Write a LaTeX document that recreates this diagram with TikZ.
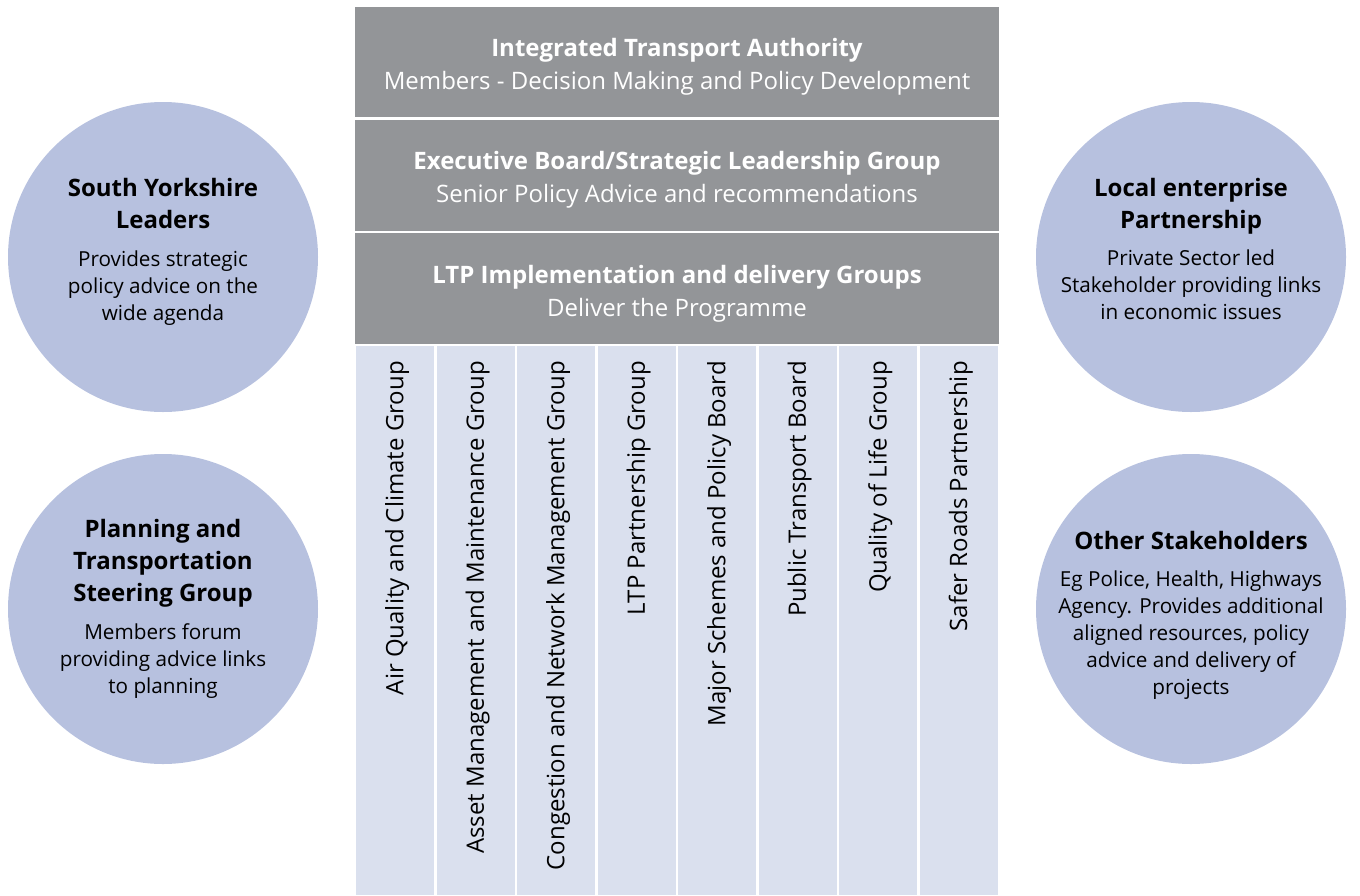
\documentclass[tikz,border=0pt]{standalone}
\usepackage{fontspec}
\setmainfont{Open Sans}
\definecolor{hdrgray}{HTML}{939598}
\definecolor{colfill}{HTML}{DAE0EE}
\definecolor{circfill}{HTML}{B7C1DF}
\begin{document}
\begin{tikzpicture}[x=1pt,y=-1pt,
  hdrbox/.style={rectangle,fill=hdrgray,minimum width=644pt,minimum height=111pt,inner sep=0pt},
  hdrtext/.style={inner sep=0pt,text=white,align=center,font=\fontsize{24}{33}\selectfont},
  colbox/.style={rectangle,fill=colfill,minimum width=78pt,minimum height=549pt,inner sep=0pt},
  coltext/.style={rotate=90,anchor=east,inner sep=0pt,font=\fontsize{24}{26}\selectfont},
  bubble/.style={circle,fill=circfill,minimum size=310pt,inner sep=0pt},
  btitle/.style={align=center,inner sep=0pt,font=\bfseries\fontsize{24}{32}\selectfont},
  bbody/.style={align=center,inner sep=0pt,font=\fontsize{20.7}{27}\selectfont}]
\useasboundingbox (0,0) rectangle (1360,895);
% header boxes
\node[hdrbox,minimum height=110pt] (ita) at (677,62) {};
\node[hdrtext] (itat) at (677,66.5) {{\bfseries Integrated Transport Authority}\\Members - Decision Making and Policy Development};
\node[hdrbox] (exb) at (677,175.5) {};
\node[hdrtext] (exbt) at (677,180) {{\bfseries Executive Board/Strategic Leadership Group}\\Senior Policy Advice and recommendations};
\node[hdrbox] (ltp) at (677,288.5) {};
\node[hdrtext] (ltpt) at (677,293.5) {{\bfseries LTP Implementation and delivery Groups}\\Deliver the Programme};
% columns
\foreach \i/\t in {0/Air Quality and Climate Group,
                   1/Asset Management and Maintenance Group,
                   2/Congestion and Network Management Group,
                   3/LTP Partnership Group,
                   4/Major Schemes and Policy Board,
                   5/Public Transport Board,
                   6/Quality of Life Group,
                   7/Safer Roads Partnership}{
  \node[colbox] (col\i) at ({355+80.5*(\i+0.5)},620.5) {};
  \node[coltext] (colt\i) at ({357+80.5*(\i+0.5)},361) {\t};
}
% circles
\node[bubble] (syl) at (163,257) {};
\node[btitle] (sylt) at (163,203) {South Yorkshire\\Leaders};
\node[bbody] (syld) at (163,288.5) {Provides strategic\\policy advice on the\\wide agenda};
\node[bubble] (pts) at (163,609) {};
\node[btitle] (ptst) at (163,563) {Planning and\\Transportation\\Steering Group};
\node[bbody] (ptsd) at (163,661) {Members forum\\providing advice links\\to planning};
\node[bubble] (lep) at (1191,257) {};
\node[btitle] (lept) at (1191,206) {Local enterprise\\Partnership};
\node[bbody] (lepd) at (1191,284.5) {Private Sector led\\Stakeholder providing links\\in economic issues};
\node[bubble] (oth) at (1191,609) {};
\node[btitle] (otht) at (1191,540) {Other Stakeholders};
\node[bbody] (othd) at (1191,635.5) {Eg Police, Health, Highways\\Agency. Provides additional\\aligned resources, policy\\advice and delivery of\\projects};
\end{tikzpicture}
\end{document}
